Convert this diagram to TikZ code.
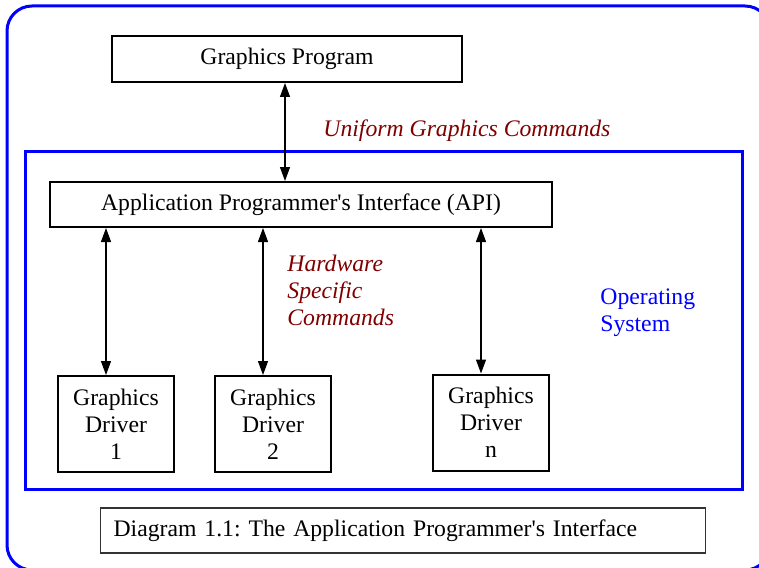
\documentclass[tikz,border=0pt]{standalone}
\usepackage{fontspec}
\setmainfont{Liberation Serif}
\usepackage{xcolor}
\usepackage{tikz}
\usetikzlibrary{arrows.meta,positioning}
\frenchspacing

\definecolor{osblue}{RGB}{0,0,255}
\definecolor{cmdred}{RGB}{128,0,0}

\begin{document}
\begin{tikzpicture}[
    x=0.5pt, y=-0.5pt,
    font=\fontsize{11.85}{13.5}\selectfont,
    box/.style={rectangle, draw, line width=1pt, align=center, inner sep=0pt},
    driverbox/.style={box, minimum width=58pt, minimum height=48pt},
    arrow/.style={{Triangle[length=7pt,width=5pt]}-{Triangle[length=7pt,width=5pt]}, line width=0.6pt},
    cmdtext/.style={text=cmdred, font=\fontsize{11.85}{13.5}\selectfont\itshape, align=left, anchor=west, inner sep=0pt}
]
\useasboundingbox (0,0) rectangle (759,567);

% Frames
\draw[osblue, line width=1.5pt, rounded corners=12.5pt] (7,6) rectangle (770,570);
\draw[osblue, line width=1.5pt] (25,151) rectangle (742,489);

% Program and API
\node[box, minimum width=175pt, minimum height=23pt] (prog) at (287,59) {Graphics Program};
\node[box, minimum width=251pt, minimum height=22.5pt] (api) at (301,204.5) {Application Programmer\textquotesingle s Interface (API)};

% Drivers
\node[driverbox] (drv1) at (116,424) {Graphics\\Driver\\1};
\node[driverbox, right=19.5pt of drv1] (drv2) {Graphics\\Driver\\2};
\node[driverbox] (drvn) at (491,422.5) {Graphics\\Driver\\n};

% Arrows
\draw[arrow] ([xshift=-1pt]prog.south) -- ([xshift=-1pt]prog.south |- api.north);
\draw[arrow] ([xshift=-5pt]drv1.north |- api.south) -- ([xshift=-5pt]drv1.north);
\draw[arrow] ([xshift=-5pt]drv2.north |- api.south) -- ([xshift=-5pt]drv2.north);
\draw[arrow] ([xshift=-5pt]drvn.north |- api.south) -- ([xshift=-5pt]drvn.north);

% Labels
\node[cmdtext] (uniform) at (323,131) {Uniform Graphics Commands};
\node[cmdtext] (hwcmd) at (287,290) {Hardware\\Specific\\Commands};
\node[text=osblue, align=left, anchor=west, inner sep=0pt] (os) at (600,313) {Operating\\System};

% Caption
\node[box, line width=0.6pt, draw=black!80, anchor=west, align=left, inner xsep=6.5pt, text width=289.5pt, minimum height=22.5pt] (caption) at (100,530.5) {Diagram 1.1: The Application Programmer\textquotesingle s Interface};
\end{tikzpicture}
\end{document}
